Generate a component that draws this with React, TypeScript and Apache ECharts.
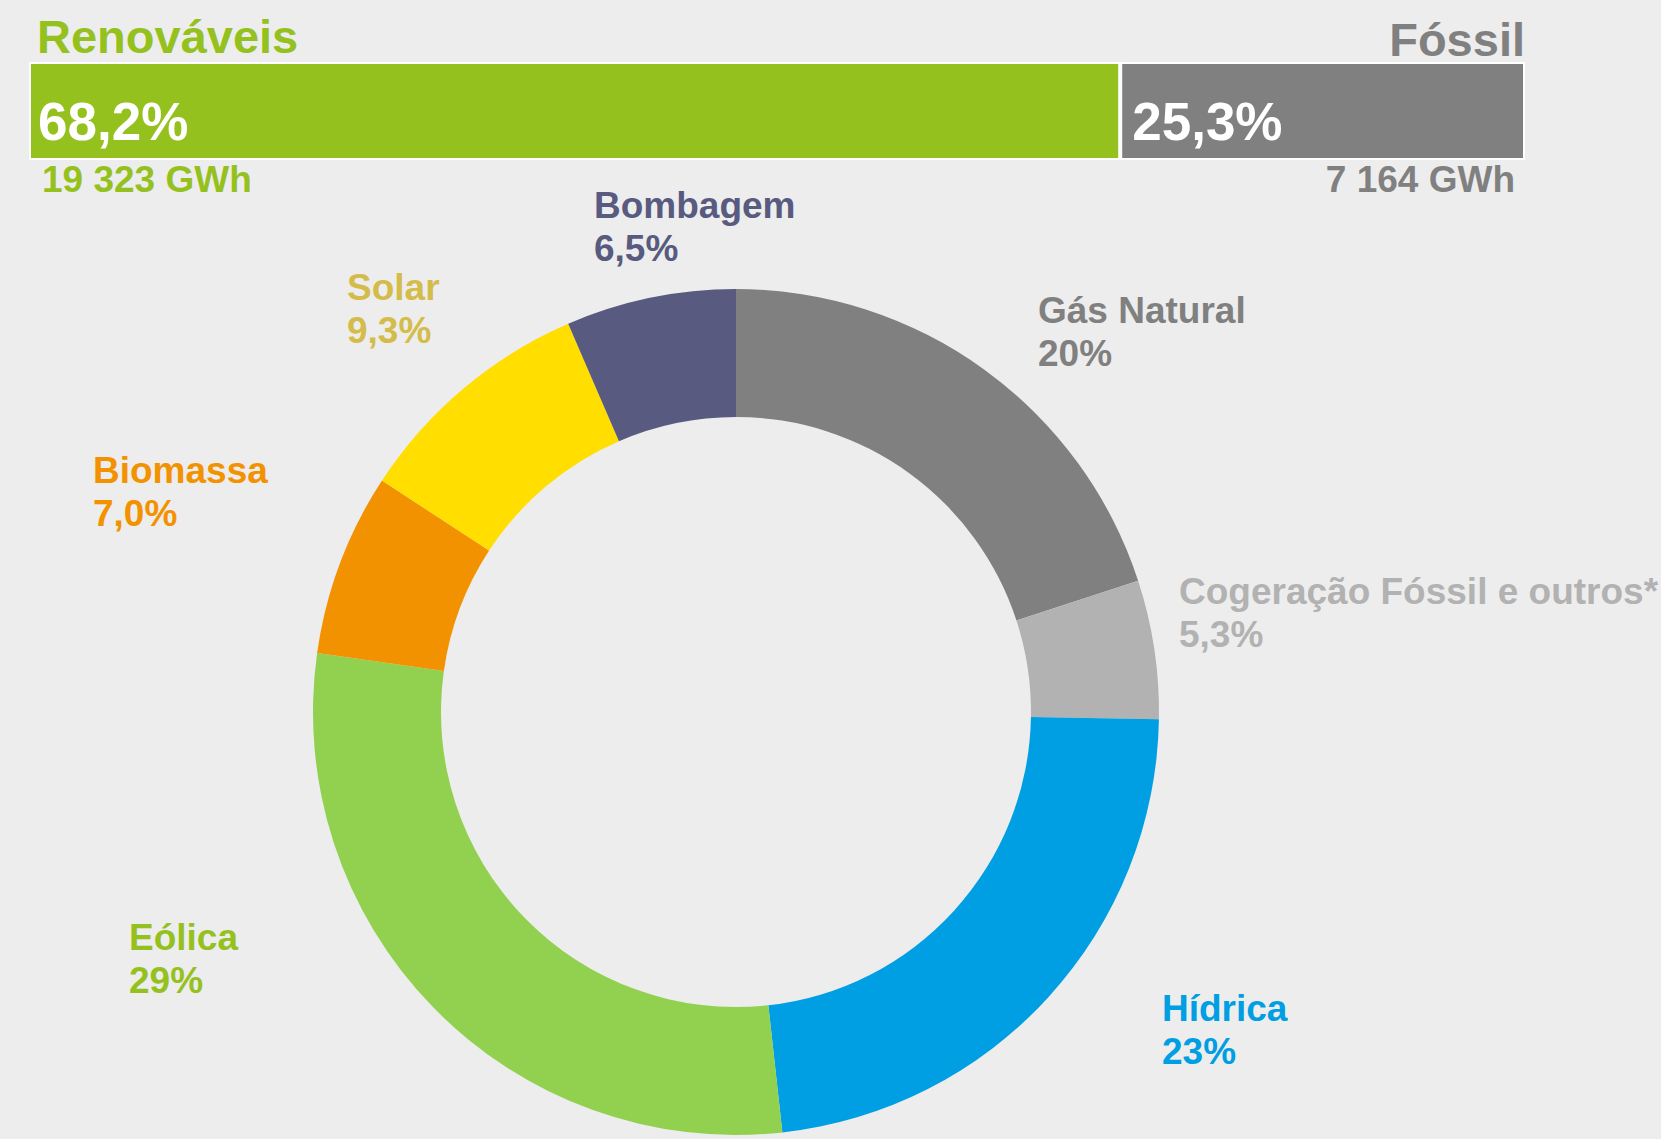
import React, { useEffect, useRef } from "react";
import * as echarts from "echarts";

// ---- data ----
const categories = [
  "Gás Natural",
  "Cogeração Fóssil e outros*",
  "Hídrica",
  "Eólica",
  "Biomassa",
  "Solar",
  "Bombagem",
];
const shares = [20, 5.3, 23, 29, 7.0, 9.3, 6.5];

const groupNames = ["Renováveis", "Fóssil"];
const groupShares = [68.2, 25.3];
const groupGWh = [19323, 7164];

// ---- styles ----
const sliceColors = ["#808080", "#B2B2B2", "#009FE3", "#92D050", "#F39200", "#FFDE00", "#595A80"];
const labelColors = ["#808080", "#B2B2B2", "#009FE3", "#95C11F", "#F39200", "#D4BC4A", "#595A80"];
const labelPos: [number, number][] = [
  [1038, 289],
  [1179, 570],
  [1162, 987],
  [129, 916],
  [93, 449],
  [347, 266],
  [594, 184],
];
const groupColors = ["#95C11F", "#808080"];
const FONT = "'Liberation Sans', Arial, sans-serif";

const fmtPie = (v: number) => (v >= 10 ? v.toFixed(0) : v.toFixed(1)).replace(".", ",") + "%";
const fmtShare = (v: number) => v.toFixed(1).replace(".", ",") + "%";
const fmtGWh = (n: number) => n.toString().replace(/\B(?=(\d{3})+(?!\d))/g, " ") + " GWh";

export default function App() {
  const ref = useRef<HTMLDivElement>(null);
  useEffect(() => {
    if (!ref.current) return;
    const chart = echarts.init(ref.current, undefined, { renderer: "svg" });
    const total = groupShares.reduce((a, b) => a + b, 0);
    const gridLeft = 29;
    const gridWidth = 1496;

    const option: any = {
      animation: false,
      backgroundColor: "#EDEDED",
      grid: { left: gridLeft, top: 62, width: gridWidth, height: 98 },
      xAxis: { type: "value", min: 0, max: total, show: false },
      yAxis: { type: "category", data: ["mix"], show: false },
      series: [
        ...groupNames.map((name, i) => ({
          type: "bar",
          name,
          stack: "total",
          barWidth: "100%",
          data: [groupShares[i]],
          itemStyle: { color: groupColors[i], borderColor: "#FFFFFF", borderWidth: 2 },
          label: {
            show: true,
            position: "insideLeft",
            offset: [i === 0 ? 4 : 7, 10],
            formatter: () => fmtShare(groupShares[i]),
            color: "#FFFFFF",
            fontFamily: FONT,
            fontWeight: "bold",
            fontSize: 53,
          },
        })),
        {
          type: "pie",
          center: [736, 712],
          radius: [295, 423],
          startAngle: 90,
          clockwise: true,
          avoidLabelOverlap: false,
          data: categories.map((name, i) => ({
            name,
            value: shares[i],
            itemStyle: { color: sliceColors[i] },
            label: { color: labelColors[i] },
          })),
          label: {
            show: true,
            position: "outside",
            formatter: (p: any) => `${p.name}\n${fmtPie(p.value)}`,
            fontFamily: FONT,
            fontWeight: "bold",
            fontSize: 37,
            lineHeight: 43,
            align: "left",
          },
          labelLine: { show: false },
          labelLayout: (p: any) => ({
            x: labelPos[p.dataIndex][0],
            y: labelPos[p.dataIndex][1],
            align: "left",
            verticalAlign: "top",
          }),
          emphasis: { disabled: true },
        },
      ],
      graphic: [
        {
          type: "text",
          left: 37,
          top: 13,
          style: {
            text: groupNames[0],
            fill: groupColors[0],
            font: `bold 47px ${FONT}`,
          },
        },
        {
          type: "text",
          right: 1661 - 1525,
          top: 16,
          style: {
            text: groupNames[1],
            fill: groupColors[1],
            font: `bold 47px ${FONT}`,
          },
        },
        {
          type: "text",
          left: 42,
          top: 161,
          style: {
            text: fmtGWh(groupGWh[0]),
            fill: groupColors[0],
            font: `bold 37px ${FONT}`,
          },
        },
        {
          type: "text",
          right: 1661 - 1515,
          top: 161,
          style: {
            text: fmtGWh(groupGWh[1]),
            fill: groupColors[1],
            font: `bold 37px ${FONT}`,
          },
        },
      ],
    };
    chart.setOption(option);
    return () => chart.dispose();
  }, []);
  return (
    <div
      ref={ref}
      style={{ position: "fixed", left: 0, top: 0, width: 1661, height: 1139, background: "#EDEDED" }}
    />
  );
}
